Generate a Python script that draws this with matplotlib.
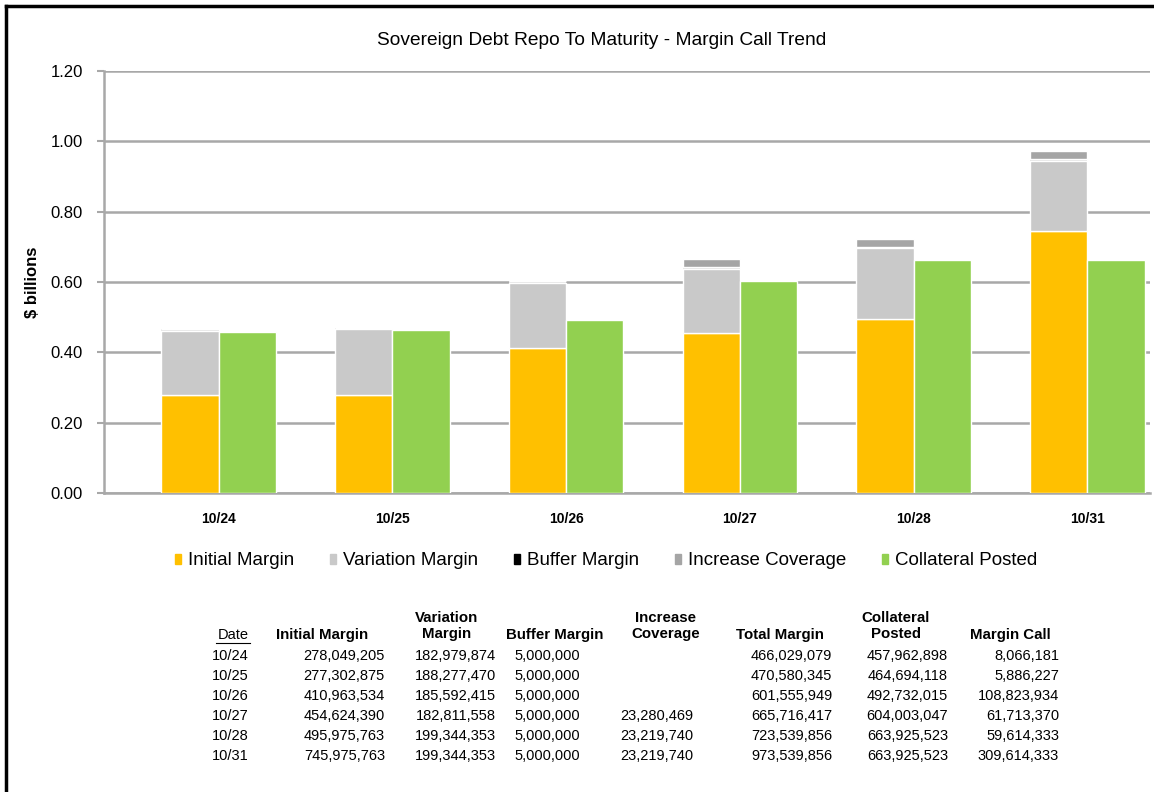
import numpy as np
import matplotlib
matplotlib.use("Agg")
import matplotlib.pyplot as plt
from matplotlib.patches import Patch
from matplotlib.lines import Line2D

plt.rcParams['font.family'] = ['Liberation Sans', 'DejaVu Sans']

dates = ["10/24", "10/25", "10/26", "10/27", "10/28", "10/31"]
initial_margin = [278049205, 277302875, 410963534, 454624390, 495975763, 745975763]
variation_margin = [182979874, 188277470, 185592415, 182811558, 199344353, 199344353]
buffer_margin = [5000000, 5000000, 5000000, 5000000, 5000000, 5000000]
increase_coverage = [0, 0, 0, 23280469, 23219740, 23219740]
total_margin = [466029079, 470580345, 601555949, 665716417, 723539856, 973539856]
collateral_posted = [457962898, 464694118, 492732015, 604003047, 663925523, 663925523]
margin_call = [8066181, 5886227, 108823934, 61713370, 59614333, 309614333]

c_init = '#FFC000'
c_var = '#C9C9C9'
c_buf = '#E6E6E6'
c_inc = '#A5A5A5'
c_coll = '#92D050'

fig = plt.figure(figsize=(11.54, 7.92), dpi=100)
ax = fig.add_axes([0.090, 0.3775, 0.9065, 0.5329])

x = np.arange(len(dates))
w = 0.33
to_b = lambda v: np.array(v) / 1e9
im = to_b(initial_margin)
vm = to_b(variation_margin)
bm = to_b(buffer_margin)
ic = to_b(increase_coverage)
cp = to_b(collateral_posted)

kw = dict(width=w, edgecolor='white', linewidth=1.0, zorder=3)
ax.bar(x - w / 2, im, color=c_init, **kw)
ax.bar(x - w / 2, vm, bottom=im, color=c_var, **kw)
ax.bar(x - w / 2, bm, bottom=im + vm, color=c_buf, width=w, linewidth=0, zorder=3)
ax.bar(x - w / 2, ic, bottom=im + vm + bm, color=c_inc, **kw)
ax.bar(x + w / 2, cp, color=c_coll, **kw)

ax.set_xlim(-0.66, 5.36)
ax.set_ylim(0, 1.2)
ax.set_yticks(np.arange(0, 1.21, 0.2))
ax.set_yticklabels([f"{v:.2f}" for v in np.arange(0, 1.21, 0.2)], fontsize=12)
ax.yaxis.grid(True, color='#A8A8A8', linewidth=1.8, zorder=0)
ax.set_axisbelow(True)
ax.set_xticks(x)
ax.set_xticklabels(dates, fontsize=10, fontweight='bold')
ax.tick_params(axis='x', length=0, pad=14)
ax.tick_params(axis='y', length=5, color='#A8A8A8', width=1.5, pad=10)
for s in ['top', 'right']:
    ax.spines[s].set_visible(False)
for s in ['left', 'bottom']:
    ax.spines[s].set_color('#A8A8A8')
    ax.spines[s].set_linewidth(1.8)
ax.set_ylabel("$ billions", fontsize=12, fontweight='bold', labelpad=8)

fig.text(0.5215, 0.949, "Sovereign Debt Repo To Maturity - Margin Call Trend",
         ha='center', va='center', fontsize=13.8)

handles = [Patch(color=c_init), Patch(color=c_var), Patch(color='black'),
           Patch(color=c_inc), Patch(color=c_coll)]
labels = ["Initial Margin", "Variation Margin", "Buffer Margin",
          "Increase Coverage", "Collateral Posted"]
fig.legend(handles, labels, loc='center', bbox_to_anchor=(0.525, 0.292), ncol=5,
           frameon=False, fontsize=13.5, handlelength=0.35, handleheight=0.45,
           handletextpad=0.35, columnspacing=1.9)

# table below the chart
H = 792.0
W = 1154.0
def fx(px): return px / W
def fy(py): return 1 - py / H

fs = 10.5
headers = [
    ("Date", 233, 635),
    ("Initial Margin", 322, 635),
    ("Variation\nMargin", 447, 626),
    ("Buffer Margin", 555, 635),
    ("Increase\nCoverage", 666, 626),
    ("Total Margin", 780, 635),
    ("Collateral\nPosted", 896, 626),
    ("Margin Call", 1010, 635),
]
for txt, cx, cy in headers:
    if txt == "Date":
        fig.text(fx(cx), fy(cy), txt, ha='center', va='center', fontsize=fs)
        fig.add_artist(Line2D([fx(216), fx(250)], [fy(643), fy(643)], color='black', linewidth=0.8))
    else:
        fig.text(fx(cx), fy(cy), txt, ha='center', va='center', fontsize=10.8,
                 fontweight='bold', linespacing=1.1)

def fmt(v):
    return f"{v:,}" if v else ""

cols = [
    (initial_margin, 385),
    (variation_margin, 496),
    (buffer_margin, 580),
    (increase_coverage, 693),
    (total_margin, 832),
    (collateral_posted, 948),
    (margin_call, 1059),
]
for i, d in enumerate(dates):
    ry = 656 + 20 * i
    fig.text(fx(249), fy(ry), d, ha='right', va='center', fontsize=fs)
    for vals, rx in cols:
        fig.text(fx(rx), fy(ry), fmt(vals[i]), ha='right', va='center', fontsize=fs)

# frame (left and top edges visible)
fig.add_artist(Line2D([fx(6), fx(6)], [0, fy(6)], color='black', linewidth=2.5))
fig.add_artist(Line2D([fx(6), 1], [fy(6), fy(6)], color='black', linewidth=2.5))

fig.savefig("out.png", dpi=100)
